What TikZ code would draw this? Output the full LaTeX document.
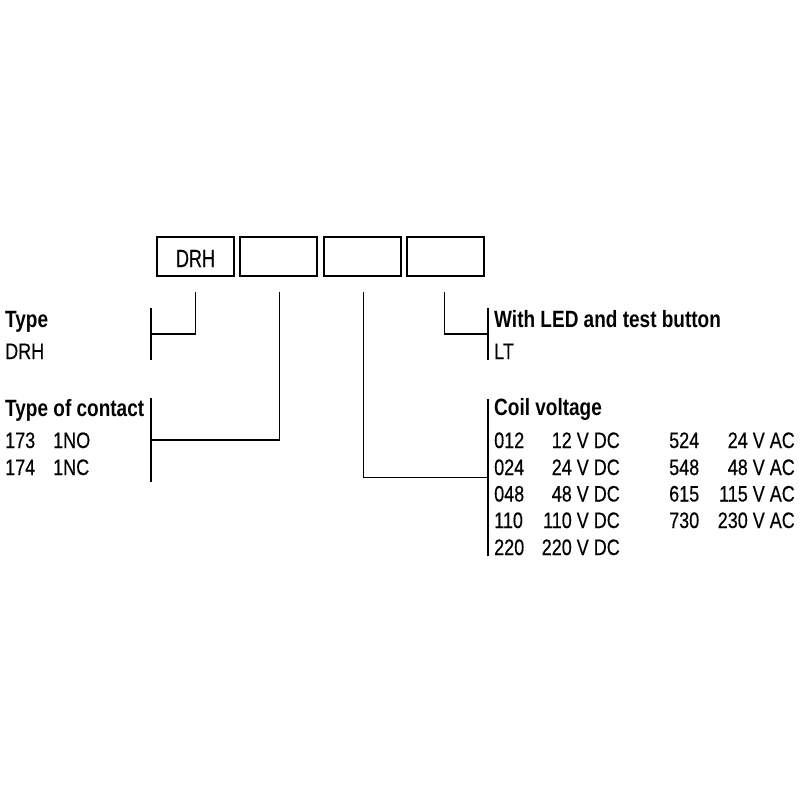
\documentclass[tikz,border=0pt]{standalone}
\usepackage{fontspec}
\setmainfont{Liberation Sans}
\newfontfamily\regfont{Liberation Sans}[FakeBold=0.4]
\newcommand{\tallt}[1]{\scalebox{1}[1.24]{#1}}
\begin{document}
\begin{tikzpicture}[x=1pt,y=-1pt,
  box/.style={draw,line width=2pt,minimum width=77pt,minimum height=39pt,inner sep=0pt},
  lbl/.style={anchor=base west,inner sep=0pt,font=\fontsize{18}{18}\regfont},
  hd/.style={anchor=base west,inner sep=0pt,font=\fontsize{19}{19}\selectfont\bfseries},
  rv/.style={anchor=base east,inner sep=0pt,font=\fontsize{18}{18}\regfont},
  ln/.style={line width=1.3pt}]
\useasboundingbox (0,0) rectangle (800,800);
% boxes
\node[box] (b1) at (195.5,256.5) {};
\node[lbl,anchor=base] (b1t) at (195.5,267) {\scalebox{1}[1.38]{DRH}};
\node[box] (b2) at (278.8,256.5) {};
\node[box] (b3) at (362,256.5) {};
\node[box] (b4) at (445.5,256.5) {};
% connectors
\coordinate (t1) at (195.7,292);
\coordinate (t2) at (279.3,292);
\coordinate (t3) at (363.3,292);
\coordinate (t4) at (444.3,292);
\coordinate (c1) at (195.7,334);
\coordinate (c2) at (279.3,440);
\coordinate (c3) at (363.3,477.5);
\coordinate (c4) at (444.3,334);
\coordinate (e1) at (151,334);
\coordinate (e2) at (151,440);
\coordinate (e3) at (488,477.5);
\coordinate (e4) at (488,334);
\draw[ln] (151,308) -- (151,360);
\draw[ln] (151,398) -- (151,482);
\draw[ln] (488,308) -- (488,360);
\draw[ln] (488,399) -- (488,556);
\draw[ln] (t1) -- (c1) -- (e1);
\draw[ln] (t2) -- (c2) -- (e2);
\draw[ln] (t3) -- (c3) -- (e3);
\draw[ln] (t4) -- (c4) -- (e4);
% left texts
\node[hd] (type) at (5,327) {\tallt{Type}};
\node[lbl] (drh) at (5,359) {\tallt{DRH}};
\node[hd] (toc) at (5,416) {\tallt{Type of contact}};
\node[lbl] (k1) at (5,448) {\tallt{173}};
\node[lbl] (k1v) at (53,448) {\tallt{1NO}};
\node[lbl] (k2) at (5,475) {\tallt{174}};
\node[lbl] (k2v) at (53,475) {\tallt{1NC}};
% right texts
\node[hd] (led) at (494,327) {\tallt{With LED and test button}};
\node[lbl] (lt) at (494,359) {\tallt{LT}};
\node[hd] (coil) at (494,415) {\tallt{Coil voltage}};
\node[lbl] (d1) at (494,448) {\tallt{012}};
\node[rv] (d1v) at (620,448) {\tallt{12 V DC}};
\node[lbl] (d2) at (494,475) {\tallt{024}};
\node[rv] (d2v) at (620,475) {\tallt{24 V DC}};
\node[lbl] (d3) at (494,501.5) {\tallt{048}};
\node[rv] (d3v) at (620,501.5) {\tallt{48 V DC}};
\node[lbl] (d4) at (494,528) {\tallt{110}};
\node[rv] (d4v) at (620,528) {\tallt{110 V DC}};
\node[lbl] (d5) at (494,555) {\tallt{220}};
\node[rv] (d5v) at (620,555) {\tallt{220 V DC}};
\node[lbl] (a1) at (669,448) {\tallt{524}};
\node[rv] (a1v) at (795,448) {\tallt{24 V AC}};
\node[lbl] (a2) at (669,475) {\tallt{548}};
\node[rv] (a2v) at (795,475) {\tallt{48 V AC}};
\node[lbl] (a3) at (669,501.5) {\tallt{615}};
\node[rv] (a3v) at (795,501.5) {\tallt{115 V AC}};
\node[lbl] (a4) at (669,528) {\tallt{730}};
\node[rv] (a4v) at (795,528) {\tallt{230 V AC}};
\end{tikzpicture}
\end{document}
